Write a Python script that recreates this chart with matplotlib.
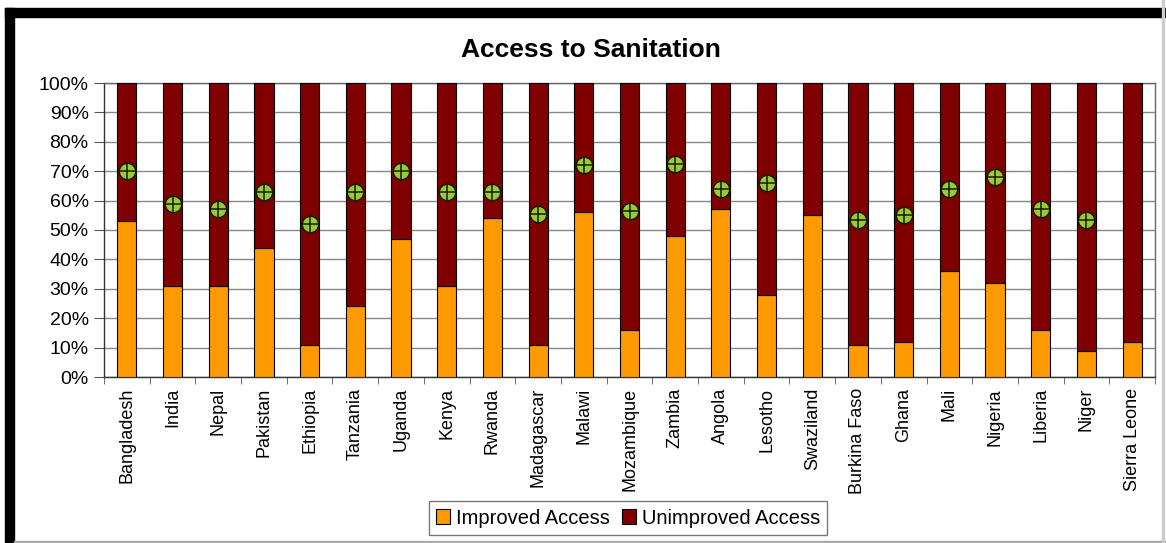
import numpy as np
import matplotlib.pyplot as plt
from matplotlib.patches import Rectangle
from matplotlib.ticker import FixedLocator, PercentFormatter

plt.rcParams['font.family'] = ['Liberation Sans', 'DejaVu Sans']

# data (percent of population)
countries = ["Bangladesh", "India", "Nepal", "Pakistan", "Ethiopia", "Tanzania",
             "Uganda", "Kenya", "Rwanda", "Madagascar", "Malawi", "Mozambique",
             "Zambia", "Angola", "Lesotho", "Swaziland", "Burkina Faso", "Ghana",
             "Mali", "Nigeria", "Liberia", "Niger", "Sierra Leone"]
improved = [53, 31, 31, 44, 11, 24, 47, 31, 54, 11, 56, 16,
            48, 57, 28, 55, 11, 12, 36, 32, 16, 9, 12]
unimproved = [100 - v for v in improved]
target = [70, 59, 57, 63, 52, 63, 70, 63, 63, 55.5, 72, 56.5,
          72.5, 64, 66, np.nan, 53.5, 55, 64, 68, 57, 53.5, np.nan]

x = np.arange(len(countries))

fig = plt.figure(figsize=(11.66, 5.43), dpi=100)
ax = fig.add_axes([104 / 1166, 1 - 377 / 543, 1051 / 1166, 294 / 543])

# frame of the pasted chart
fig.patches.append(Rectangle((5 / 1166, 1 - 17 / 543), 1, 9 / 543,
                             transform=fig.transFigure, color='black'))
fig.patches.append(Rectangle((5 / 1166, 0), 9 / 1166, 1 - 8 / 543,
                             transform=fig.transFigure, color='black'))
fig.patches.append(Rectangle((14 / 1166, 1 / 543), 1, 1.5 / 543,
                             transform=fig.transFigure, color='#aaaaaa'))
fig.patches.append(Rectangle((1162 / 1166, 0), 1.5 / 1166, 1,
                             transform=fig.transFigure, color='#cccccc'))

w = 0.42
ax.bar(x, improved, w, color='#ff9900', edgecolor='black', linewidth=0.8,
       label='Improved Access', zorder=3)
ax.bar(x, unimproved, w, bottom=improved, color='#800000', edgecolor='black',
       linewidth=0.8, label='Unimproved Access', zorder=3)

# target markers (circle with a cross)
ax.plot(x, target, 'o', ms=12, mfc='#99cc33', mec='#1a1a00', mew=1.2, zorder=4)
ax.plot(x, target, '+', ms=11, mec='#1a1a00', mew=1.1, zorder=5)

ax.set_xlim(-0.5, len(countries) - 0.5)
ax.set_ylim(0, 100)
ax.yaxis.set_major_locator(FixedLocator(np.arange(0, 101, 10)))
ax.yaxis.set_major_formatter(PercentFormatter(decimals=0))
ax.grid(axis='y', color='#888888', linewidth=1.0, zorder=0)

ax.set_xticks(x)
ax.set_xticklabels(countries, rotation=90, fontsize=13)
ax.set_xticks(np.arange(-0.5, len(countries)), minor=True)
ax.tick_params(axis='x', which='major', length=0, pad=8)
ax.tick_params(axis='x', which='minor', length=5, color='#555555')
ax.tick_params(axis='y', length=7, color='#555555', labelsize=14, pad=4)

for s in ax.spines.values():
    s.set_color('#666666')
    s.set_linewidth(1.0)
ax.spines['left'].set_color('#333333')
ax.spines['bottom'].set_color('#333333')

fig.text(591 / 1166, 1 - 50 / 543, 'Access to Sanitation', ha='center',
         va='center', fontsize=19, fontweight='bold')

fig.legend(loc='center', bbox_to_anchor=(628 / 1166, 1 - 518 / 543),
           ncol=2, fontsize=14.5, frameon=True, fancybox=False,
           edgecolor='#777777', framealpha=1, handlelength=0.7,
           handleheight=0.7, handletextpad=0.3, columnspacing=0.6,
           borderpad=0.35)

fig.savefig('out.png', dpi=100)
